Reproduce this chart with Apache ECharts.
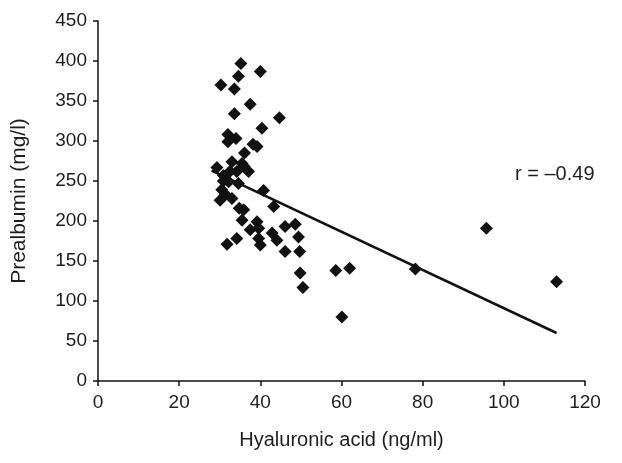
<!DOCTYPE html>
<html>
<head>
<meta charset="utf-8">
<script src="https://cdn.jsdelivr.net/npm/echarts@6/dist/echarts.min.js"></script>
<style>
  html, body { margin: 0; padding: 0; background: #fff; }
  #chart { width: 622px; height: 463px; }
</style>
</head>
<body>
<div id="chart"></div>
<script>
// hyaluronic acid (ng/ml) vs prealbumin (mg/l)
const hyaluronic = [
  35.2, 40.0, 34.6, 30.3, 33.6, 37.5, 33.6, 44.7, 40.4, 32.0,
  34.0, 32.0, 39.2, 38.2, 36.1, 29.3, 33.0, 35.5, 37.1, 30.9,
  32.2, 34.2, 34.6, 30.5, 31.4, 40.8, 30.1, 33.0, 43.3, 35.9,
  35.5, 39.2, 37.5, 39.6, 39.6, 40.0, 42.9, 44.1, 31.8, 34.2,
  46.1, 48.6, 49.4, 46.1, 49.7, 49.8, 50.5, 58.6, 62.0, 60.1,
  78.2, 95.7, 113.0, 32.5, 36.0, 34.8, 30.9
];
const prealbumin = [
  397, 387, 381, 370, 365, 346, 334, 329, 316, 308,
  303, 299, 293, 296, 285, 267, 274, 272, 262, 257,
  249, 262, 247, 239, 233, 238, 226, 228, 218, 214,
  201, 199, 189, 191, 178, 170, 185, 176, 171, 178,
  193, 196, 180, 162, 162, 135, 117, 138, 141, 80,
  140, 191, 124, 262, 268, 216, 250
];

// trend line end points
const trendX = [28.0, 113.0];
const trendY = [263, 60];

const xTicks = { min: 0, max: 120, interval: 20 };
const yTicks = { min: 0, max: 450, interval: 50 };

const font = 'Liberation Sans';
const ink = '#111';
const textInk = '#1e1e1e';

const points = hyaluronic.map((x, i) => [x, prealbumin[i]]);
const trend = trendX.map((x, i) => [x, trendY[i]]);

const chart = echarts.init(document.getElementById('chart'));

chart.setOption({
  animation: false,
  backgroundColor: '#fff',
  grid: { left: 98, right: 37, top: 21, bottom: 82 },
  xAxis: {
    type: 'value',
    min: xTicks.min, max: xTicks.max, interval: xTicks.interval,
    name: 'Hyaluronic acid (ng/ml)',
    nameLocation: 'middle',
    nameGap: 49,
    nameTextStyle: { fontFamily: font, fontSize: 20, color: textInk },
    axisLine: { lineStyle: { color: ink, width: 1.5 } },
    axisTick: { lineStyle: { color: ink, width: 1.5 }, length: 5 },
    axisLabel: { fontFamily: font, fontSize: 19, color: textInk, margin: 12 },
    splitLine: { show: false }
  },
  yAxis: {
    type: 'value',
    min: yTicks.min, max: yTicks.max, interval: yTicks.interval,
    name: 'Prealbumin (mg/l)',
    nameLocation: 'middle',
    nameGap: 68,
    nameTextStyle: { fontFamily: font, fontSize: 21, color: textInk },
    axisLine: { show: true, lineStyle: { color: ink, width: 1.5 } },
    axisTick: { show: true, lineStyle: { color: ink, width: 1.5 }, length: 5 },
    axisLabel: { fontFamily: font, fontSize: 19, color: textInk, margin: 11 },
    splitLine: { show: false }
  },
  graphic: [{
    type: 'text',
    left: 515,
    top: 164,
    style: { text: 'r = \u20130.49', fontFamily: font, fontSize: 20, fill: textInk }
  }],
  series: [
    {
      type: 'line',
      data: trend,
      symbol: 'none',
      lineStyle: { color: ink, width: 2.5 },
      z: 1
    },
    {
      type: 'scatter',
      data: points,
      symbol: 'diamond',
      symbolSize: 13,
      itemStyle: { color: ink, opacity: 1 },
      z: 2
    }
  ]
});
</script>
</body>
</html>
